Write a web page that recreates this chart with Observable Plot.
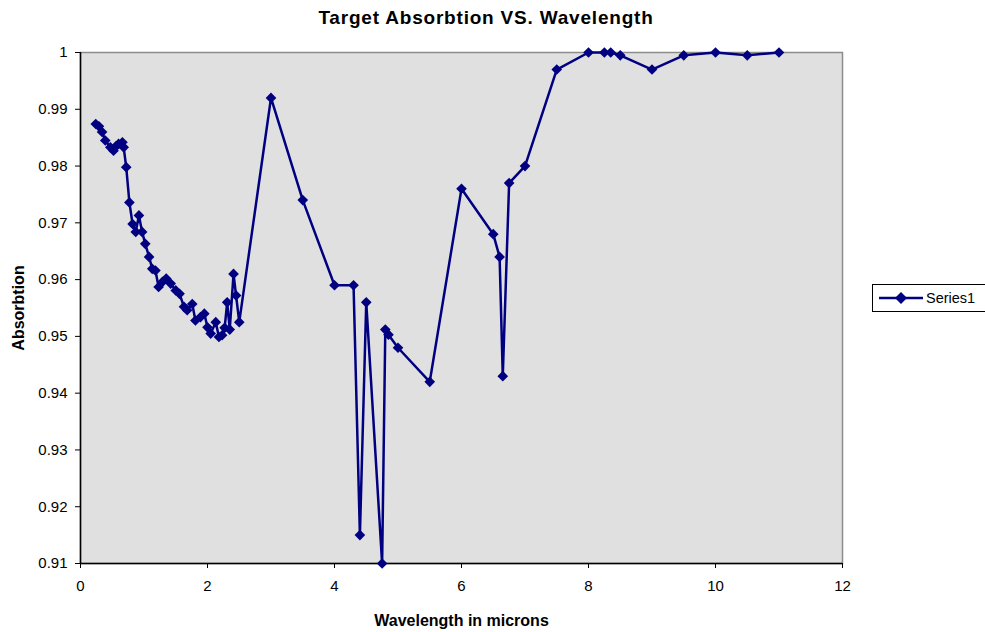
<!DOCTYPE html>
<html><head><meta charset="utf-8">
<script src="https://cdn.jsdelivr.net/npm/d3@7"></script>
<script src="https://cdn.jsdelivr.net/npm/@observablehq/plot@0.6"></script>
<style>
body{margin:0;background:#fff;font-family:"Liberation Sans",Arial,sans-serif;}
#wrap{position:relative;width:985px;height:632px;overflow:hidden;}
#title{height:35px;line-height:35px;text-align:center;font-weight:bold;font-size:19px;letter-spacing:0.8px;padding-right:13px;}
#legend{position:absolute;left:872px;top:284px;width:130px;height:28px;border:1px solid #000;background:#fff;box-sizing:border-box;}
#legend span{position:absolute;left:53px;top:5px;font-size:14.5px;}
#legend svg{position:absolute;left:0;top:0;}
</style></head><body>
<div id="wrap">
<div id="title">Target Absorbtion VS. Wavelength</div>
<div id="chart"></div>
<div id="legend"><svg width="54" height="26"><line x1="6" x2="50" y1="13" y2="13" stroke="#000080" stroke-width="2.5"/><path d="M28,7 L34,13 L28,19 L22,13Z" fill="#000080"/></svg><span>Series1</span></div>
</div>
<script>
const wavelength = [0.24,0.29,0.34,0.39,0.47,0.52,0.56,0.6,0.66,0.68,0.72,0.77,0.82,0.87,0.92,0.97,1.02,1.08,1.13,1.18,1.23,1.29,1.35,1.42,1.5,1.56,1.63,1.68,1.76,1.81,1.89,1.95,2.0,2.05,2.13,2.18,2.23,2.27,2.31,2.35,2.41,2.45,2.5,
  3.0,3.5,4.0,4.3,4.4,4.5,4.75,4.8,4.85,5.0,5.5,6.0,6.5,6.6,6.65,6.75,7.0,7.5,8.0,8.25,8.35,8.5,9.0,9.5,10.0,10.5,11.0];
const absorption = [0.9874,0.987,0.986,0.9845,0.9833,0.9827,0.9835,0.9839,0.9842,0.9833,0.9798,0.9736,0.9698,0.9684,0.9713,0.9684,0.9663,0.964,0.9619,0.9616,0.9587,0.9596,0.9602,0.9593,0.9581,0.9575,0.9552,0.9546,0.9557,0.9528,0.9534,0.954,0.9516,0.9505,0.9525,0.9499,0.9502,0.9515,0.956,0.9512,0.961,0.9572,0.9525,
  0.992,0.974,0.959,0.959,0.915,0.956,0.910,0.9512,0.9503,0.948,0.942,0.976,0.968,0.964,0.943,0.977,0.980,0.997,1.0,1.0,1.0,0.9995,0.997,0.9995,1.0,0.9995,1.0];
const xTicks = [0,2,4,6,8,10,12];
const xTickLabels = ["0","2","4","6","8","10","12"];
const yTicks = [0.91,0.92,0.93,0.94,0.95,0.96,0.97,0.98,0.99,1];
const yTickLabels = ["0.91","0.92","0.93","0.94","0.95","0.96","0.97","0.98","0.99","1"];

const data = wavelength.map((w,i)=>({w, a: absorption[i]}));
const navy = "#000080";
const chart = Plot.plot({
  width: 985, height: 597,
  marginLeft: 80, marginRight: 143, marginTop: 17, marginBottom: 69,
  style: {fontFamily: "Liberation Sans, Arial, sans-serif", fontSize: "15px", background: "transparent", overflow: "visible", color: "#000"},
  x: {domain: [0, 12]},
  y: {domain: [0.91, 1]},
  marks: [
    Plot.frame({fill: "#e0e0e0", stroke: "#8c8c8c", strokeWidth: 1.5}),
    Plot.axisX({ticks: xTicks, tickFormat: (d,i)=>xTickLabels[i], tickSize: 5, tickPadding: 12, label: null, stroke: "#000"}),
    Plot.axisY({ticks: yTicks, tickFormat: (d,i)=>yTickLabels[i], tickSize: 5, tickPadding: 8, label: null, stroke: "#000"}),
    Plot.ruleY([0.91], {stroke: "#000", strokeWidth: 1.5}),
    Plot.ruleX([0], {stroke: "#000", strokeWidth: 1.5}),
    Plot.line(data, {x: "w", y: "a", stroke: navy, strokeWidth: 2.5}),
    Plot.dot(data, {x: "w", y: "a", symbol: "diamond2", fill: navy, r: 4.8}),
    Plot.text(["Wavelength in microns"], {frameAnchor: "bottom", dy: 62, fontWeight: "bold", fontSize: 16, textAnchor: "middle"}),
    Plot.text(["Absorbtion"], {frameAnchor: "left", dx: -62, rotate: -90, fontWeight: "bold", fontSize: 16, textAnchor: "middle"})
  ]
});
document.getElementById("chart").appendChild(chart);
</script>
</body></html>
